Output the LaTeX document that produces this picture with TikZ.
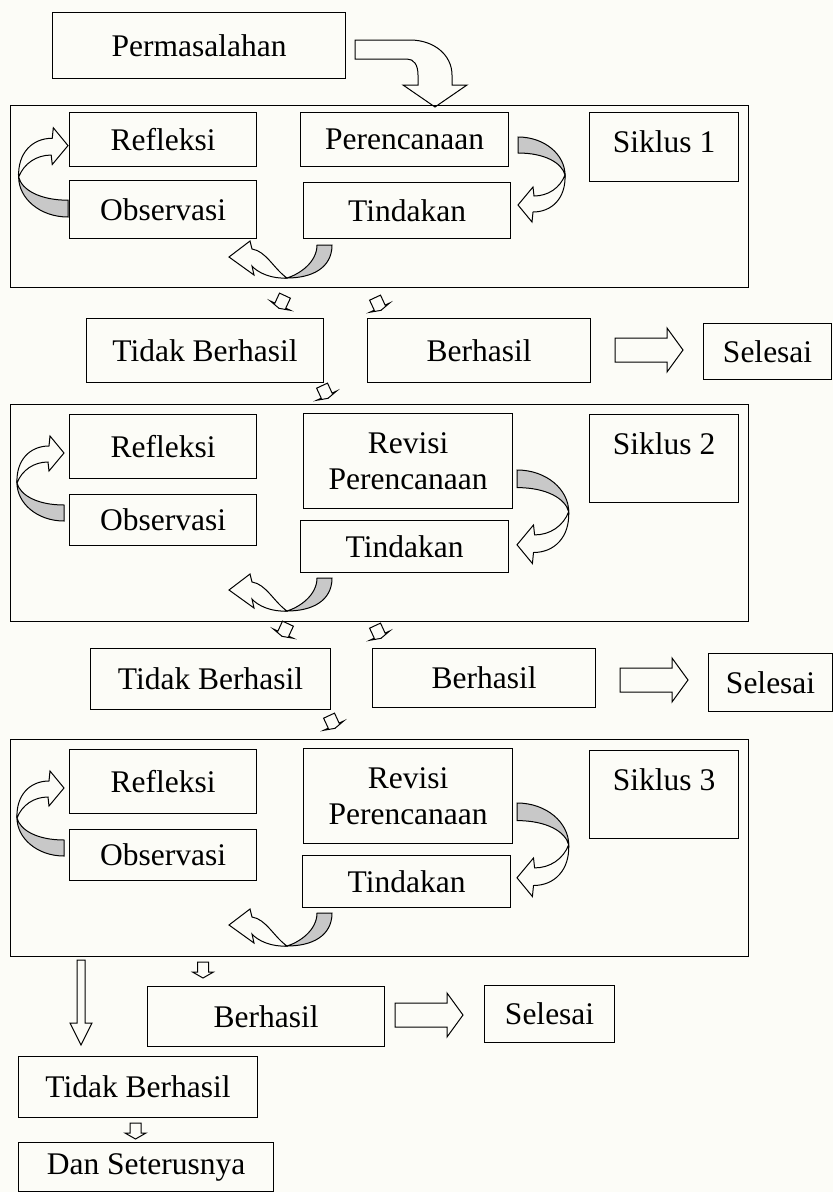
\documentclass[tikz,border=0pt]{standalone}
\usepackage{fontspec}
\setmainfont{Liberation Serif}
\definecolor{paper}{RGB}{252,252,247}
\definecolor{shade}{RGB}{200,200,200}
\tikzset{
  box/.style={draw, line width=1.2pt, inner sep=0pt, anchor=north west, align=center,
    font=\fontsize{31.5}{36}\selectfont},
  blk/.style={draw, line width=1pt, fill=paper},
  pics/turnarrow/.style={code={
    \path[blk, fill=shade] (0,0) .. controls (27,0) and (47,18) .. (47,38)
      .. controls (44,26) and (27,16) .. (0,16) -- cycle;
    \path[blk] (47,38) .. controls (48,61) and (34,75) .. (15,75) -- (14,85) -- (0,68)
      -- (15,50) -- (16,59) .. controls (30,59) and (42,51) .. (47,38) -- cycle;
  }},
  pics/backarrow/.style={code={
    \path[blk, fill=shade] (0,0) .. controls (0,23) and (-20,33) .. (-45,33)
      .. controls (-32,29) and (-15,17) .. (-15,0) -- cycle;
    \path[blk] (-45,33) .. controls (-60,34) and (-74,28) .. (-80,21) -- (-78,30) -- (-103,12)
      -- (-82,-4) -- (-80,4) .. controls (-66,6) and (-58,24) .. (-45,33) -- cycle;
  }},
  pics/rightblock/.style={code={
    \path[blk] (0,-12) -- (52,-12) -- (52,-22) -- (68,0) -- (52,22) -- (52,12) -- (0,12) -- cycle;
  }},
  pics/smalldown/.style={code={
    \path[blk] (-5.5,-8) -- (5.5,-8) -- (5.5,2) -- (10.5,2) -- (0,8) -- (-10.5,2) -- (-5.5,2) -- cycle;
  }},
  pics/tiltdown/.style={code={
    \path[blk] (-6,-7) -- (6,-7) -- (6,4) -- (11,4) -- (0,7) -- (-11,4) -- (-6,4) -- cycle;
  }},
}
\begin{document}
\begin{tikzpicture}[x=1pt, y=-1pt]
  \fill[paper] (0,0) rectangle (833,1192);
  \useasboundingbox (0,0) rectangle (833,1192);

  \node[box, minimum width=293, minimum height=66] (masalah) at (52,12) {Permasalahan};
  \path[blk] (355,40) -- (410,40) .. controls (434,40) and (452,55) .. (452,75) -- (452,85)
    -- (467,85) -- (435,107) -- (403,85) -- (418,85) -- (418,75)
    .. controls (418,65) and (414,59) .. (407,59) -- (355,59) -- cycle;

  % siklus 1
  \node[box, minimum width=738, minimum height=182] (siklusA) at (10,105) {};
  \node[box, minimum width=187, minimum height=54] (refA) at (69,112) {Refleksi};
  \node[box, minimum width=187, minimum height=58] (obsA) at (69,180) {Observasi};
  \node[box, minimum width=208, minimum height=54] (renA) at (300,112) {Perencanaan};
  \node[box, minimum width=207, minimum height=56] (tinA) at (303,182) {Tindakan};
  \node[box, minimum width=149, text height=40, text depth=29] (labA) at (589,112) {Siklus 1};
  \pic[rotate=180, scale=1.05] at (68,217) {turnarrow};
  \pic at (518,137) {turnarrow};
  \pic at (332,245) {backarrow};

  \pic[rotate=-25] at (282,302) {tiltdown};
  \pic[rotate=25] at (378,304) {tiltdown};
  \node[box, minimum width=237, minimum height=64] (gagalA) at (86,318) {Tidak Berhasil};
  \node[box, minimum width=223, minimum height=64] (hasilA) at (367,318) {Berhasil};
  \pic at (615,350) {rightblock};
  \node[box, minimum width=128, minimum height=56] (selA) at (703,323) {Selesai};
  \pic[rotate=25] at (325,392) {tiltdown};

  % siklus 2
  \node[box, minimum width=738, minimum height=217] (siklusB) at (10,404) {};
  \node[box, minimum width=187, minimum height=64] (refB) at (69,414) {Refleksi};
  \node[box, minimum width=187, minimum height=51] (obsB) at (69,494) {Observasi};
  \node[box, minimum width=209, minimum height=95] (renB) at (303,413) {Revisi\\Perencanaan};
  \node[box, minimum width=208, minimum height=52] (tinB) at (300,520) {Tindakan};
  \node[box, minimum width=149, text height=40, text depth=48] (labB) at (589,414) {Siklus 2};
  \pic[rotate=180] at (64,521) {turnarrow};
  \pic[scale=1.1] at (517,470) {turnarrow};
  \pic at (332,578) {backarrow};

  \pic[rotate=-25] at (285,630) {tiltdown};
  \pic[rotate=25] at (378,632) {tiltdown};
  \node[box, minimum width=240, minimum height=61] (gagalB) at (90,648) {Tidak Berhasil};
  \node[box, minimum width=223, minimum height=59] (hasilB) at (372,648) {Berhasil};
  \pic at (620,680) {rightblock};
  \node[box, minimum width=124, minimum height=58] (selB) at (708,653) {Selesai};
  \pic[rotate=25] at (332,722) {tiltdown};

  % siklus 3
  \node[box, minimum width=738, minimum height=217] (siklusC) at (10,739) {};
  \node[box, minimum width=187, minimum height=64] (refC) at (69,749) {Refleksi};
  \node[box, minimum width=187, minimum height=51] (obsC) at (69,829) {Observasi};
  \node[box, minimum width=209, minimum height=95] (renC) at (303,748) {Revisi\\Perencanaan};
  \node[box, minimum width=208, minimum height=52] (tinC) at (302,855) {Tindakan};
  \node[box, minimum width=149, text height=40, text depth=48] (labC) at (589,750) {Siklus 3};
  \pic[rotate=180] at (64,856) {turnarrow};
  \pic[scale=1.1] at (517,803) {turnarrow};
  \pic at (332,913) {backarrow};

  \path[blk] (77,960) -- (85,960) -- (85,1023) -- (92,1023) -- (81,1045) -- (70,1023)
    -- (77,1023) -- cycle;
  \pic at (203,970) {smalldown};
  \node[box, minimum width=237, minimum height=60] (hasilC) at (147,986) {Berhasil};
  \pic at (395,1015) {rightblock};
  \node[box, minimum width=130, minimum height=57] (selC) at (484,985) {Selesai};
  \node[box, minimum width=239, minimum height=61] (gagalC) at (18,1056) {Tidak Berhasil};
  \pic at (135.5,1131) {smalldown};
  \node[box, minimum width=255, minimum height=49] (lanjut) at (18,1142) {Dan Seterusnya};
\end{tikzpicture}
\end{document}
